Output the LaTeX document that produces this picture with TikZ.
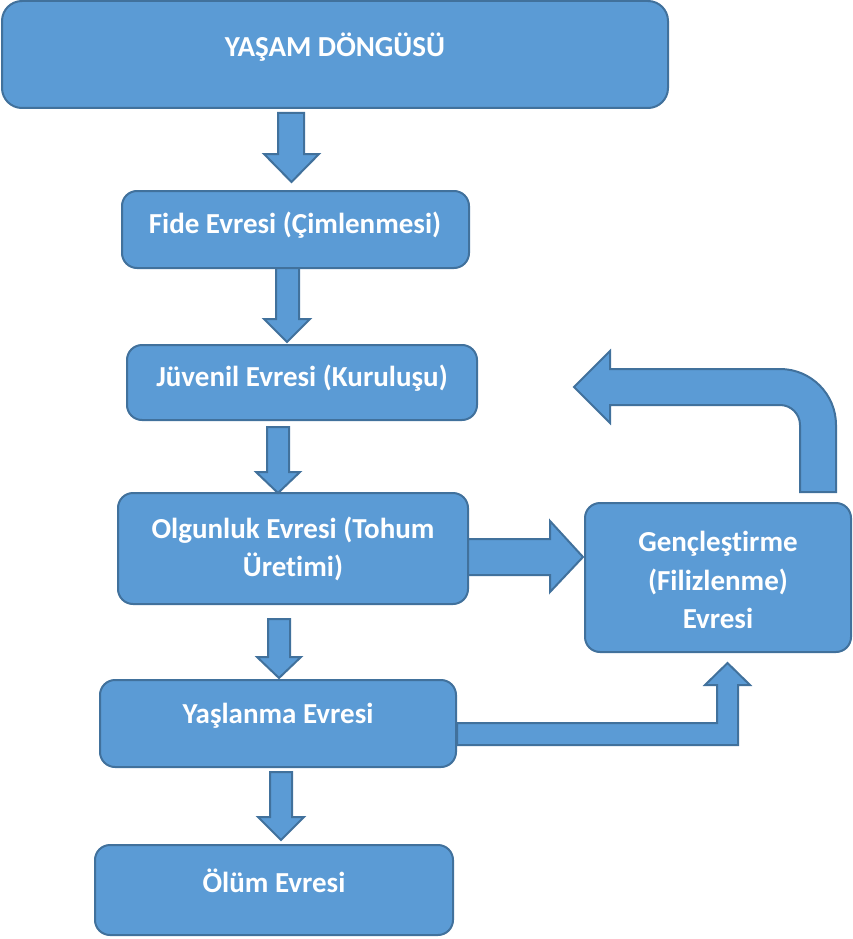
\documentclass[tikz,border=0pt]{standalone}
\usepackage{fontspec}
\setmainfont{Carlito}[Ligatures=NoCommon]
\definecolor{boxfill}{HTML}{5B9BD5}
\definecolor{boxline}{HTML}{41719C}
\newcommand\dnarrow[7]{% xl xr top headstart hl hr tip
  \fill[blockarrow] ({#1},{-#3}) -- ({#2},{-#3}) -- ({#2},{-#4}) -- ({#6},{-#4}) -- ({(#5+#6)/2},{-#7}) -- ({#5},{-#4}) -- ({#1},{-#4}) -- cycle;}
\begin{document}
\begin{tikzpicture}[x=1pt,y=1pt,
  box/.style={draw=boxline, fill=boxfill, line width=2pt, rounded corners=15pt, inner sep=0pt},
  lbl/.style={text=white, font=\fontsize{29}{38.5}\selectfont\bfseries, align=center},
  blockarrow/.style={draw=boxline, fill=boxfill, line width=2pt, line join=miter}]
\useasboundingbox (0,0) rectangle (853,-939);
% boxes
\node[box, rounded corners=20pt, minimum width=666pt, minimum height=107pt] (top) at (335,-54.5) {};
\node[lbl] (toptxt) at (335,-47) {YAŞAM DÖNGÜSÜ};
\node[box, minimum width=347pt, minimum height=77pt] (fide) at (295.5,-229.5) {};
\node[lbl] (fidetxt) at (295,-225) {Fide Evresi (Çimlenmesi)};
\node[box, minimum width=350pt, minimum height=75pt] (juv) at (302,-382.5) {};
\node[lbl] (juvtxt) at (302,-378) {Jüvenil Evresi (Kuruluşu)};
\node[box, minimum width=350pt, minimum height=111pt] (olg) at (293,-548.5) {};
\node[lbl] (olgtxt) at (293,-549) {Olgunluk Evresi (Tohum\\Üretimi)};
\node[box, minimum width=266pt, minimum height=149pt] (genc) at (718,-577.5) {};
\node[lbl] (genctxt) at (718,-580) {Gençleştirme\\(Filizlenme)\\Evresi};
\node[box, minimum width=356pt, minimum height=87pt] (yas) at (278,-723.5) {};
\node[lbl] (yastxt) at (278,-716) {Yaşlanma Evresi};
\node[box, minimum width=358pt, minimum height=90pt] (olum) at (274,-890) {};
\node[lbl] (olumtxt) at (274,-881) {Ölüm Evresi};
% down block arrows
\dnarrow{278}{304}{113}{154}{264}{319}{182}
\dnarrow{276}{299}{268}{319}{264}{310}{342}
\dnarrow{267}{289}{427}{472}{256}{300}{493}
\dnarrow{268}{290}{619}{657}{257}{301}{678}
\dnarrow{270}{292}{772}{817}{258}{304}{840}
% right arrow Olgunluk -> Genclestirme
\fill[blockarrow] (468,-539) -- (550,-539) -- (550,-521) -- (583,-557) -- (550,-592) -- (550,-575) -- (468,-575) -- cycle;
% bent up arrow Yaslanma -> Genclestirme
\fill[blockarrow] (457,-723) -- (717,-723) -- (717,-685) -- (705,-685) -- (727.5,-663) -- (750,-685) -- (738,-685) -- (738,-745) -- (457,-745) -- cycle;
% U-turn arrow Genclestirme -> Juvenil
\fill[blockarrow] (574,-387) -- (610,-351) -- (610,-369) -- (780,-369) arc[start angle=90, end angle=0, radius=56] -- (836,-492) -- (800,-492) -- (800,-425) arc[start angle=0, end angle=90, radius=20] -- (610,-405) -- (610,-423) -- cycle;
\end{tikzpicture}
\end{document}
